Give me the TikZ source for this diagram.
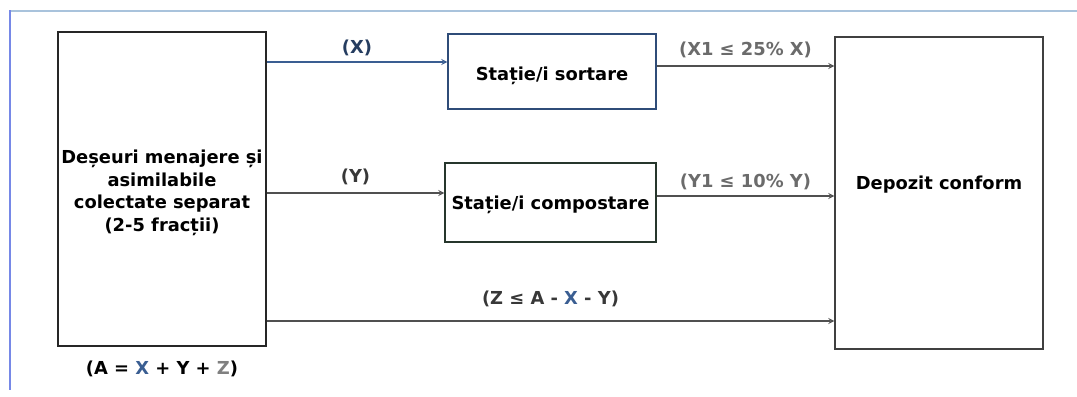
\documentclass[tikz,border=0pt]{standalone}
\usepackage{fontspec}
\setmainfont{DejaVu Sans}
\usepackage{xcolor}
\usepackage{tikz}
\usetikzlibrary{positioning}
\definecolor{frameblue}{HTML}{A9C3DC}
\definecolor{flowblue}{HTML}{3A5E92}
\definecolor{boxblue}{HTML}{2F4C78}
\definecolor{boxgreen}{HTML}{26362C}
\definecolor{flowgray}{HTML}{505050}

\begin{document}
\begin{tikzpicture}[x=0.75pt, y=-0.75pt, font=\fontsize{13.4}{16.9}\selectfont\bfseries, line width=1pt,
  box/.style = {draw, rectangle, inner sep=0pt, align=center},
  flow/.style = {draw=flowgray, ->, >=stealth},
  lbl/.style = {midway, text=black!78, inner sep=0pt},
  lightlbl/.style = {lbl, text=black!58}]
\useasboundingbox (0,0) rectangle (1077,396);
% frame
\draw[frameblue, line width=1.5pt] (10,11) -- (1077,11);
\draw[frameblue!70!blue, line width=1.5pt] (10,10) -- (10,390);
% boxes
\node[box, draw=black!85, minimum width=156pt, minimum height=235.5pt] (src) at (162,189) {\raisebox{-3pt}[\height][\depth]{\begin{tabular}{@{}c@{}}Deșeuri menajere și\\asimilabile\\colectate separat\\(2-5 fracții)\end{tabular}}};
\node[box, draw=boxblue, minimum width=156pt, minimum height=56.25pt] (sort) at (552,71.5) {\raisebox{-3pt}[\height][\depth]{Stație/i sortare}};
\node[box, draw=boxgreen, minimum width=158.25pt, minimum height=59.25pt] (comp) at (550.5,202.5) {\raisebox{-2pt}[\height][\depth]{Stație/i compostare}};
\node[box, draw=black!75, minimum width=156pt, minimum height=234pt] (dep) at (939,193) {\raisebox{6.5pt}[\height][\depth]{Depozit conform}};
\node[inner sep=0pt] (total) at ([yshift=-16.5pt]src.south) {(A = \textcolor{flowblue}{X} + Y + \textcolor{gray}{Z})};
% flows
\draw[flow, draw=flowblue] (src.east |- 0,62) -- node[lbl, text=boxblue!80!black, yshift=10.5pt] {(X)} (sort.west |- 0,62);
\draw[flow] (sort.east |- 0,66) -- node[lightlbl, yshift=12pt] {(X1 ≤ 25\% X)} (dep.west |- 0,66);
\draw[flow] (src.east |- 0,193) -- node[lbl, yshift=12pt] {(Y)} (comp.west |- 0,193);
\draw[flow] (comp.east |- 0,196) -- node[lightlbl, yshift=10.5pt] {(Y1 ≤ 10\% Y)} (dep.west |- 0,196);
\draw[flow] (src.east |- 0,321) -- node[lbl, yshift=16.5pt] {(Z ≤ A - \textcolor{flowblue}{X} - Y)} (dep.west |- 0,321);
\end{tikzpicture}
\end{document}
